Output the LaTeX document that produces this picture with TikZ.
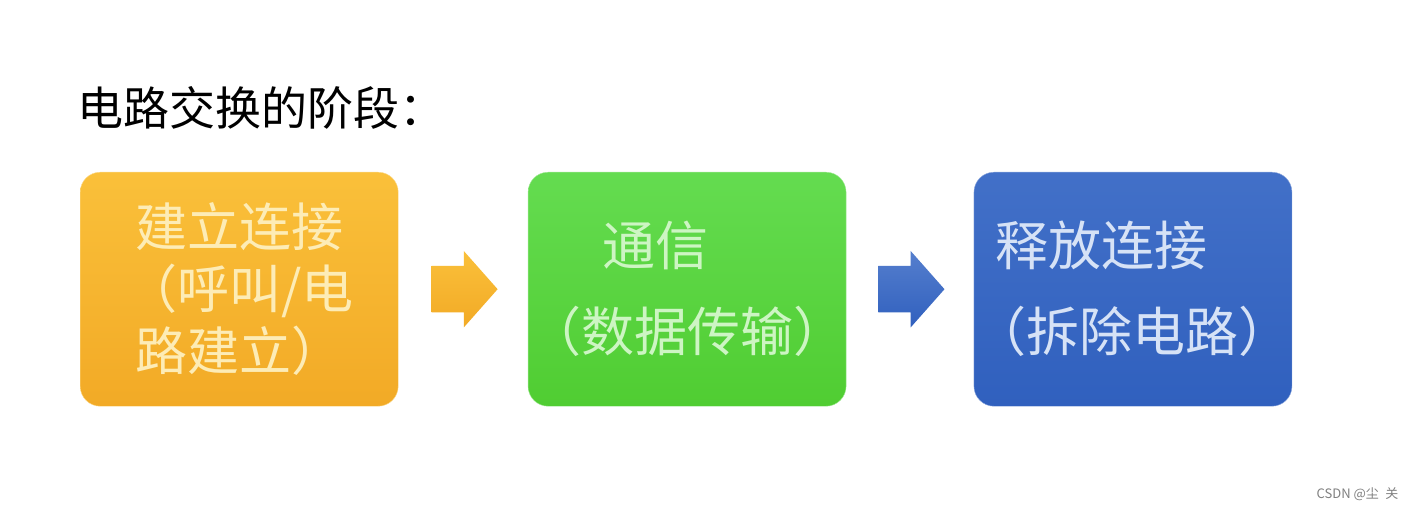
\documentclass[tikz,border=0pt]{standalone}
\usepackage{fontspec}
\usepackage{xcolor}
\usepackage{tikz}
\usetikzlibrary{positioning,shapes.arrows}
\setmainfont{Noto Sans CJK SC}
\definecolor{setuptop}{RGB}{250,192,58}
\definecolor{setupbot}{RGB}{242,170,38}
\definecolor{setuptext}{RGB}{253,236,182}
\definecolor{commtop}{RGB}{100,220,80}
\definecolor{commbot}{RGB}{80,205,50}
\definecolor{commtext}{RGB}{205,245,195}
\definecolor{reltop}{RGB}{66,112,200}
\definecolor{relbot}{RGB}{48,96,190}
\definecolor{reltext}{RGB}{214,226,246}

\begin{document}
\begin{tikzpicture}[x=1pt,y=-1pt,
    stage/.style={rounded corners=20pt, minimum width=318pt, minimum height=234pt,
        inner sep=0pt, align=left, font=\fontsize{52}{62}\selectfont},
    blockarrow/.style={single arrow, minimum height=66pt, inner xsep=0pt, inner ysep=23pt,
        single arrow head extend=15pt, single arrow tip angle=97}]
    \useasboundingbox [fill=white] (0,0) rectangle (1416,510);
    \node [anchor=west, font=\fontsize{46}{52}\selectfont] (title) at (74,108) {电路交换的阶段：};
    \node [stage, anchor=north west, top color=setuptop, bottom color=setupbot,
        draw=setuptop!60!white, text=setuptext] (setup) at (80,172)
        {\hspace{0.2em}建立连接\\（呼叫/电\\\hspace{0.2em}路建立）};
    \node [blockarrow, right=33pt of setup, top color=setuptop, bottom color=setupbot] (a1) {};
    \node [stage, right=30pt of a1, top color=commtop, bottom color=commbot,
        draw=commtop!60!white, text=commtext, font=\fontsize{53}{86}\selectfont] (comm)
        {\hspace{1.4em}通信\\（数据传输）};
    \node [blockarrow, right=32pt of comm, top color=reltop!90!white, bottom color=relbot] (a2) {};
    \node [stage, right=29pt of a2, top color=reltop, bottom color=relbot,
        draw=reltop!60!white, text=reltext, font=\fontsize{53}{86}\selectfont] (release)
        {\hspace{0.4em}释放连接\\（拆除电路）};
    \node [anchor=east, text=gray, font=\fontsize{13}{15}\selectfont] (mark) at (1402,494) {CSDN @尘\hspace{0.5em}关};
\end{tikzpicture}
\end{document}
